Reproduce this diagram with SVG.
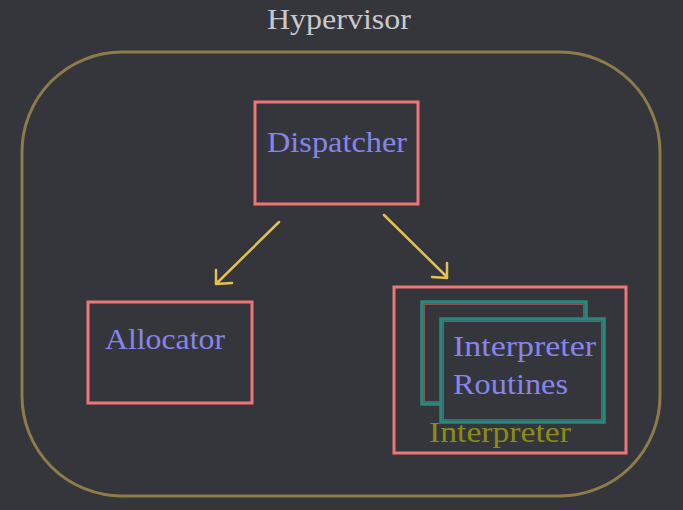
<svg xmlns="http://www.w3.org/2000/svg" width="683" height="510" viewBox="0 0 683 510">
<defs>
<style>
.box{fill:#35363c;stroke:#ee7676;stroke-width:3}
.sub{fill:#35363c;stroke:#2a877e;stroke-width:3.5}
.subin{fill:none;stroke:#a05a5a;stroke-width:0.8}
.lbl{font-family:"Liberation Serif","DejaVu Serif",serif;font-size:30px;fill:#8585ea}
.arrow{fill:none;stroke:#e3bf55;stroke-width:2.5;stroke-linecap:round;stroke-linejoin:round}
</style>
</defs>
<rect width="683" height="510" fill="#35363c"/>
<g id="hypervisor">
<rect x="22" y="52" width="638" height="444" rx="100" ry="100" fill="none" stroke="#8e7b4c" stroke-width="3"/>
<text x="267" y="29" font-family="Liberation Serif, DejaVu Serif, serif" font-size="30" fill="#c9c9cb" textLength="144" lengthAdjust="spacingAndGlyphs">Hypervisor</text>
</g>
<g id="dispatcher">
<rect class="box" x="255" y="102" width="163" height="102"/>
<text class="lbl" x="267" y="152" textLength="140" lengthAdjust="spacingAndGlyphs">Dispatcher</text>
</g>
<g id="allocator">
<rect class="box" x="88" y="302" width="164" height="101"/>
<text class="lbl" x="105" y="349" textLength="120" lengthAdjust="spacingAndGlyphs">Allocator</text>
</g>
<g id="interpreter">
<rect class="box" x="394" y="287" width="232" height="166"/>
<text x="429" y="442" font-family="Liberation Serif, DejaVu Serif, serif" font-size="30" fill="#8b8c14" textLength="142" lengthAdjust="spacingAndGlyphs">Interpreter</text>
</g>
<g id="routines-back">
<rect class="sub" x="422" y="302" width="164" height="102"/>
<rect class="subin" x="424.5" y="304.5" width="159" height="97"/>
</g>
<g id="routines">
<rect class="sub" x="441" y="319" width="163" height="103"/>
<rect class="subin" x="443.5" y="321.5" width="158" height="98"/>
<text class="lbl" x="453" y="356" textLength="143" lengthAdjust="spacingAndGlyphs">Interpreter</text>
<text class="lbl" x="453" y="394" textLength="115" lengthAdjust="spacingAndGlyphs">Routines</text>
</g>
<g id="connectors">
<path class="arrow" d="M279 222 L217 283 M216 270 L216 284 L232 283"/>
<path class="arrow" d="M384 215 L447 277 M447 263 L447 278 L432 277"/>
</g>
</svg>
